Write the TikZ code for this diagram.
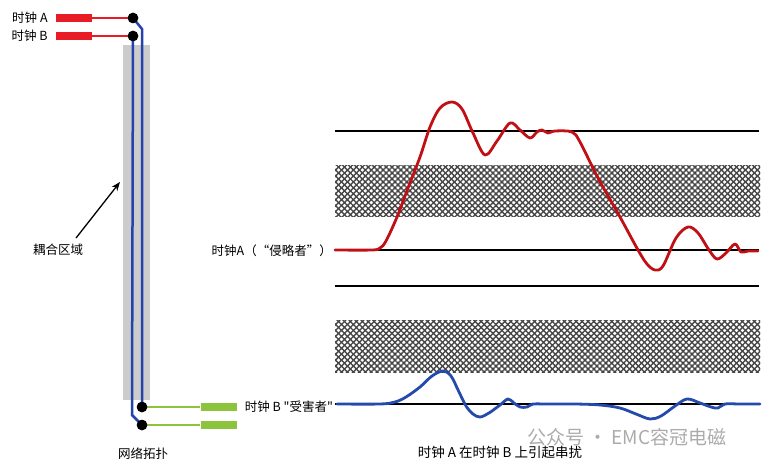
\documentclass[tikz,border=0pt]{standalone}
\usepackage{fontspec}
\setmainfont{Noto Sans CJK SC}[Ligatures=TeXOff]
\usetikzlibrary{positioning,patterns.meta,arrows.meta}
\definecolor{WireRed}{RGB}{232,28,36}
\definecolor{WireBlue}{RGB}{38,66,172}
\definecolor{WireGreen}{RGB}{141,196,62}
\definecolor{WaveRed}{RGB}{192,16,22}
\definecolor{WaveBlue}{RGB}{36,74,172}
\definecolor{Band}{RGB}{204,204,204}
\definecolor{HatchInk}{RGB}{70,70,70}
\tikzstyle{Dot} = [circle, fill=black, inner sep=0pt, minimum size=10.5pt]
\tikzstyle{Pad} = [rectangle, inner sep=0pt, minimum height=8pt, minimum width=36pt]
\tikzstyle{Label} = [inner sep=0pt, font=\fontsize{12.5}{14}\selectfont]
\tikzstyle{Level} = [black, line width=1.3pt]
\tikzstyle{Hatch} = [pattern={Lines[angle=45,distance=4.2pt,line width=1.4pt]}, pattern color=HatchInk]
\tikzstyle{HatchB} = [pattern={Lines[angle=-45,distance=4.2pt,line width=1.4pt]}, pattern color=HatchInk]

\begin{document}
\begin{tikzpicture}[x=1pt,y=-1pt]
    \useasboundingbox (0,0) rectangle (770,470);
    % coupling region
    \fill[Band] (123,45) rectangle (150,400);
    % source side
    \node[Dot] (a_src) at (133,18) {};
    \node[Dot] (b_src) at (133,36) {};
    \node[Pad, fill=WireRed] (a_pad) at (74,18) {};
    \node[Pad, fill=WireRed] (b_pad) at (74,36) {};
    \node[Label] (a_name) [left=8pt of a_pad] {时钟 A};
    \node[Label] (b_name) [left=8pt of b_pad] {时钟 B};
    \draw[WireRed, line width=2.4pt] (a_pad) -- (a_src);
    \draw[WireRed, line width=2.4pt] (b_pad) -- (b_src);
    % load side
    \node[Dot] (a_dst) at (142,407) {};
    \node[Dot] (b_dst) at (142,425) {};
    \node[Pad, fill=WireGreen] (a_load) at (218.5,407) {};
    \node[Pad, fill=WireGreen] (b_load) at (218.5,425) {};
    \draw[WireGreen, line width=2.4pt] (a_dst) -- (a_load);
    \draw[WireGreen, line width=2.4pt] (b_dst) -- (b_load);
    % routed traces
    \coordinate (a_bend) at (142,29);
    \coordinate (b_bend) at (132,415);
    \draw[WireBlue, line width=2.5pt] (a_src.center) -- (a_bend) -- (a_dst.center);
    \draw[WireBlue, line width=2.5pt] (b_src.center) -- (b_bend) -- (b_dst.center);
    \node[Dot] at (a_src) {};
    \node[Dot] at (b_src) {};
    \node[Dot] at (a_dst) {};
    \node[Dot] at (b_dst) {};
    \node[Label] (topo) at (143,454) {网络拓扑};
    \node[Label] (cpl) at (58,250) {耦合区域};
    \coordinate (cpl_tip) at (120,182);
    \draw[-{Stealth[length=9pt,width=7pt]}, line width=1.3pt] ([xshift=18pt,yshift=6pt]cpl.north) -- (cpl_tip);

    % waveforms
    \fill[Hatch] (335,166) rectangle (760,217);
    \fill[HatchB] (335,166) rectangle (760,217);
    \fill[Hatch] (335,320) rectangle (760,372);
    \fill[HatchB] (335,320) rectangle (760,372);
    \draw[Level] (335,131) -- (759,131);
    \draw[Level] (335,250) -- (759,250);
    \draw[Level] (335,286) -- (759,286);
    \draw[Level] (335,404) -- (758,404);
    \draw[WaveRed, line width=2.8pt, line cap=round, line join=round] plot[smooth, tension=0.55] coordinates {
        (335,250) (372,250) (380,248) (386,241) (397,217) (408,188) (420,157) (430,127)
        (440,108) (452,102) (462,109) (473,133) (485,155) (497,141) (510,123) (520,130)
        (530,138) (537,132) (542,130) (548,133) (555,131) (572,132) (580,142) (598,178)
        (620,217) (638,250) (647,264) (655,270) (663,266) (676,238) (688,227) (698,233)
        (709,250) (717,259) (726,253) (735,244) (741,252) (748,251) (758,251)};
    \draw[WaveBlue, line width=2.8pt, line cap=round, line join=round] plot[smooth, tension=0.55] coordinates {
        (337,404) (380,404) (395,402) (406,397) (420,387) (432,376) (443,371) (451,376)
        (459,392) (466,406) (473,414) (480,417) (489,413) (500,405) (508,399) (514,403)
        (520,407) (527,407) (533,404) (545,404) (575,404) (600,405) (620,408) (636,414)
        (650,419) (661,416) (675,406) (687,399) (700,403) (711,407) (718,408) (725,404)
        (740,404) (760,404)};
    \node[Label, anchor=east] (aggr) at (332,251) {时钟A（“侵略者”）};
    \node[Label] (victim) [right=8pt of a_load] {时钟 B "受害者"};
    \node[Label, font=\fontsize{13.5}{15}\selectfont] (caption) at (500,452) {时钟 A 在时钟 B 上引起串扰};
    \node[inner sep=0pt, text=black!33, font=\fontsize{19}{21}\selectfont, anchor=west] (mark) at (527,437) {公众号 · EMC容冠电磁};
\end{tikzpicture}
\end{document}
